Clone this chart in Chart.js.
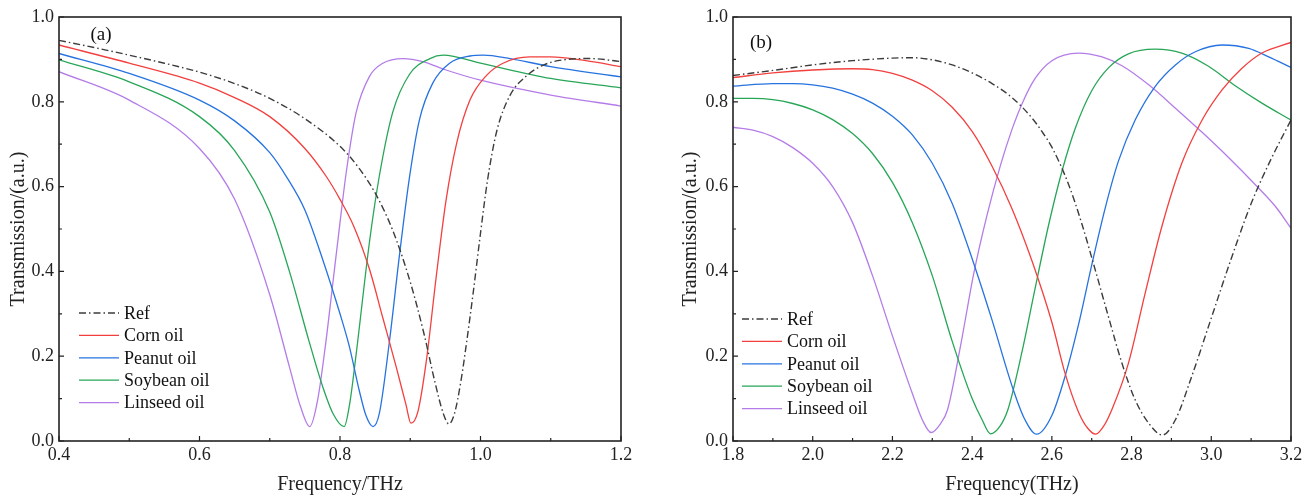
<!DOCTYPE html>
<html>
<head>
<meta charset="utf-8">
<script src="https://cdn.jsdelivr.net/npm/chart.js@4.4.1/dist/chart.umd.min.js"></script>
<style>
  body { margin: 0; background: #fff; }
  canvas { position: absolute; top: 0; }
</style>
</head>
<body>
<canvas id="chartA" width="656" height="500" style="left:0px"></canvas>
<canvas id="chartB" width="657" height="500" style="left:656px"></canvas>
<script>
const seriesNames = ["Ref", "Corn oil", "Peanut oil", "Soybean oil", "Linseed oil"];

// panel (a)
const refAx = [0.40, 0.45, 0.50, 0.55, 0.60, 0.65, 0.70, 0.75, 0.80, 0.825, 0.85, 0.875, 0.90, 0.92, 0.935, 0.947, 0.955, 0.963, 0.972, 0.98, 0.99, 1.0, 1.01, 1.023, 1.042, 1.066, 1.09, 1.118, 1.156, 1.20];
const refAy = [0.945, 0.928, 0.910, 0.891, 0.870, 0.843, 0.808, 0.760, 0.695, 0.648, 0.585, 0.497, 0.375, 0.250, 0.140, 0.065, 0.040, 0.065, 0.140, 0.230, 0.355, 0.490, 0.615, 0.730, 0.815, 0.862, 0.887, 0.899, 0.902, 0.895];
const cornAx = [0.40, 0.50, 0.60, 0.65, 0.70, 0.75, 0.78, 0.80, 0.82, 0.842, 0.861, 0.88, 0.894, 0.901, 0.911, 0.923, 0.937, 0.951, 0.966, 0.985, 1.009, 1.032, 1.07, 1.10, 1.15, 1.20];
const cornAy = [0.934, 0.891, 0.844, 0.810, 0.765, 0.690, 0.625, 0.570, 0.505, 0.405, 0.290, 0.175, 0.085, 0.042, 0.070, 0.190, 0.388, 0.568, 0.702, 0.804, 0.863, 0.891, 0.906, 0.906, 0.897, 0.883];
const peanutAx = [0.40, 0.50, 0.60, 0.65, 0.70, 0.725, 0.75, 0.775, 0.80, 0.813, 0.828, 0.837, 0.847, 0.856, 0.87, 0.885, 0.899, 0.913, 0.932, 0.956, 0.985, 1.004, 1.042, 1.10, 1.20];
const peanutAy = [0.914, 0.867, 0.804, 0.755, 0.680, 0.620, 0.545, 0.430, 0.300, 0.225, 0.115, 0.060, 0.034, 0.065, 0.230, 0.443, 0.623, 0.757, 0.844, 0.891, 0.908, 0.910, 0.902, 0.883, 0.859];
const soyAx = [0.40, 0.50, 0.60, 0.65, 0.70, 0.728, 0.756, 0.775, 0.79, 0.806, 0.814, 0.823, 0.842, 0.856, 0.875, 0.899, 0.928, 0.947, 1.0, 1.1, 1.2];
const soyAy = [0.899, 0.847, 0.765, 0.685, 0.540, 0.400, 0.235, 0.130, 0.065, 0.034, 0.090, 0.205, 0.470, 0.625, 0.775, 0.865, 0.902, 0.910, 0.891, 0.855, 0.833];
const linAx = [0.40, 0.50, 0.60, 0.65, 0.70, 0.728, 0.744, 0.757, 0.768, 0.78, 0.79, 0.80, 0.809, 0.823, 0.842, 0.861, 0.89, 0.918, 0.951, 1.0, 1.1, 1.2];
const linAy = [0.871, 0.804, 0.690, 0.570, 0.345, 0.175, 0.080, 0.034, 0.095, 0.235, 0.375, 0.515, 0.635, 0.775, 0.860, 0.891, 0.902, 0.895, 0.875, 0.851, 0.816, 0.790];

// panel (b)
const refBx = [1.8, 1.9, 2.0, 2.1, 2.2, 2.25, 2.3, 2.35, 2.4, 2.45, 2.5, 2.55, 2.575, 2.6, 2.642, 2.675, 2.709, 2.742, 2.776, 2.809, 2.843, 2.877, 2.91, 2.95, 3.0, 3.05, 3.1, 3.15, 3.2];
const refBy = [0.862, 0.874, 0.887, 0.897, 0.903, 0.904, 0.899, 0.887, 0.868, 0.843, 0.810, 0.762, 0.730, 0.693, 0.605, 0.513, 0.403, 0.293, 0.183, 0.097, 0.042, 0.014, 0.050, 0.150, 0.290, 0.430, 0.560, 0.665, 0.757];
const cornBx = [1.8, 1.9, 2.0, 2.1, 2.15, 2.2, 2.25, 2.3, 2.35, 2.4, 2.45, 2.5, 2.55, 2.6, 2.633, 2.667, 2.69, 2.71, 2.73, 2.751, 2.792, 2.834, 2.876, 2.926, 2.977, 3.027, 3.077, 3.127, 3.2];
const cornBy = [0.857, 0.868, 0.875, 0.878, 0.876, 0.867, 0.851, 0.826, 0.787, 0.730, 0.648, 0.548, 0.425, 0.280, 0.160, 0.068, 0.030, 0.016, 0.035, 0.075, 0.183, 0.348, 0.506, 0.655, 0.757, 0.828, 0.879, 0.915, 0.940];
const peanutBx = [1.8, 1.9, 1.95, 2.0, 2.05, 2.1, 2.15, 2.2, 2.25, 2.3, 2.35, 2.4, 2.45, 2.5, 2.53, 2.562, 2.6, 2.633, 2.667, 2.70, 2.734, 2.767, 2.809, 2.859, 2.91, 2.96, 3.027, 3.094, 3.144, 3.2];
const peanutBy = [0.837, 0.843, 0.843, 0.840, 0.832, 0.818, 0.797, 0.766, 0.722, 0.655, 0.560, 0.430, 0.285, 0.130, 0.055, 0.016, 0.060, 0.152, 0.275, 0.415, 0.550, 0.660, 0.757, 0.836, 0.887, 0.918, 0.934, 0.926, 0.906, 0.881];
const soyBx = [1.8, 1.85, 1.9, 1.95, 2.0, 2.05, 2.1, 2.15, 2.2, 2.25, 2.3, 2.35, 2.4, 2.425, 2.446, 2.47, 2.49, 2.525, 2.558, 2.592, 2.625, 2.659, 2.70, 2.742, 2.792, 2.859, 2.926, 2.993, 3.06, 3.127, 3.2];
const soyBy = [0.808, 0.808, 0.805, 0.796, 0.781, 0.758, 0.725, 0.678, 0.610, 0.515, 0.390, 0.235, 0.100, 0.050, 0.017, 0.035, 0.075, 0.210, 0.360, 0.510, 0.635, 0.738, 0.826, 0.880, 0.913, 0.924, 0.915, 0.884, 0.838, 0.797, 0.757];
const linBx = [1.8, 1.85, 1.9, 1.95, 2.0, 2.05, 2.1, 2.15, 2.2, 2.25, 2.275, 2.297, 2.32, 2.338, 2.371, 2.404, 2.438, 2.471, 2.5, 2.525, 2.558, 2.6, 2.667, 2.726, 2.776, 2.843, 2.91, 2.977, 3.044, 3.11, 3.161, 3.2];
const linBy = [0.740, 0.733, 0.718, 0.692, 0.655, 0.600, 0.515, 0.390, 0.248, 0.112, 0.050, 0.020, 0.040, 0.073, 0.225, 0.395, 0.535, 0.650, 0.735, 0.795, 0.855, 0.897, 0.915, 0.906, 0.885, 0.840, 0.785, 0.728, 0.668, 0.605, 0.553, 0.502];

const colors = ["#3c3c3c", "#f2403f", "#2673e0", "#27a657", "#b47ce8"];
const serif = '"Liberation Serif", "Times New Roman", serif';

const toPoints = (xs, ys) => xs.map((x, i) => ({ x: x, y: ys[i] }));

// frame, inner ticks, legend and panel label
const framePlugin = {
  id: "frame",
  afterDatasetsDraw(chart, args, opts) {
    const { ctx, chartArea: a, scales } = chart;
    ctx.save();
    ctx.strokeStyle = "#222";
    ctx.lineWidth = 1.6;
    ctx.strokeRect(a.left, a.top, a.right - a.left, a.bottom - a.top);

    ctx.lineWidth = 1.2;
    ctx.beginPath();
    const xs = scales.x, ys = scales.y;
    xs.ticks.forEach((t, i) => {
      const px = xs.getPixelForValue(t.value);
      ctx.moveTo(px, a.bottom); ctx.lineTo(px, a.bottom - 5);
      if (i < xs.ticks.length - 1) {
        const m = xs.getPixelForValue((t.value + xs.ticks[i + 1].value) / 2);
        ctx.moveTo(m, a.bottom); ctx.lineTo(m, a.bottom - 3);
      }
    });
    ys.ticks.forEach((t, i) => {
      const py = ys.getPixelForValue(t.value);
      ctx.moveTo(a.left, py); ctx.lineTo(a.left + 5, py);
      if (i < ys.ticks.length - 1) {
        const m = ys.getPixelForValue((t.value + ys.ticks[i + 1].value) / 2);
        ctx.moveTo(a.left, m); ctx.lineTo(a.left + 3, m);
      }
    });
    ctx.stroke();

    // legend
    ctx.font = "18px " + serif;
    ctx.textBaseline = "middle";
    ctx.textAlign = "left";
    chart.data.datasets.forEach((ds, i) => {
      const y = opts.legY + i * opts.legRow;
      ctx.strokeStyle = ds.borderColor;
      ctx.lineWidth = ds.borderWidth;
      ctx.setLineDash(ds.borderDash || []);
      ctx.beginPath();
      ctx.moveTo(opts.legX, y);
      ctx.lineTo(opts.legX + 40, y);
      ctx.stroke();
      ctx.setLineDash([]);
      ctx.fillStyle = "#111";
      ctx.fillText(ds.label, opts.legX + 45, y + 1);
    });

    ctx.font = "19px " + serif;
    ctx.textAlign = "center";
    ctx.fillText(opts.label, opts.labelX, opts.labelY);
    ctx.restore();
  }
};

function makeChart(id, xsList, ysList, xMin, xMax, xTitle, axisW, padRight, titlePad, frameOpts) {
  const datasets = xsList.map((xs, i) => ({
    label: seriesNames[i],
    data: toPoints(xs, ysList[i]),
    borderColor: colors[i],
    borderWidth: i === 0 ? 1.4 : 1.3,
    borderDash: i === 0 ? [7, 3, 1.5, 3] : [],
    pointRadius: 0,
    cubicInterpolationMode: "monotone",
    fill: false
  }));

  return new Chart(document.getElementById(id), {
    type: "line",
    data: { datasets: datasets },
    plugins: [framePlugin],
    options: {
      responsive: false,
      devicePixelRatio: 1,
      animation: false,
      layout: { padding: { left: 0, top: 17, right: padRight, bottom: 0 } },
      plugins: {
        legend: { display: false },
        tooltip: { enabled: false },
        frame: frameOpts
      },
      scales: {
        x: {
          type: "linear",
          min: xMin,
          max: xMax,
          afterFit: (s) => { s.height = 59; },
          grid: { display: false, drawTicks: false },
          border: { display: false },
          ticks: {
            stepSize: 0.2,
            maxRotation: 0,
            padding: 3,
            color: "#222",
            font: { family: serif, size: 18 },
            callback: (v) => Number(v).toFixed(1)
          },
          title: {
            display: true,
            text: xTitle,
            color: "#222",
            font: { family: serif, size: 20 },
            padding: { top: 0, bottom: 3 }
          }
        },
        y: {
          min: 0,
          max: 1,
          afterFit: (s) => { s.width = axisW; },
          grid: { display: false, drawTicks: false },
          border: { display: false },
          ticks: {
            stepSize: 0.2,
            padding: 5,
            color: "#222",
            font: { family: serif, size: 18 },
            callback: (v) => Number(v).toFixed(1)
          },
          title: {
            display: true,
            text: "Transmission/(a.u.)",
            color: "#222",
            font: { family: serif, size: 20 },
            padding: { top: titlePad, bottom: 0 }
          }
        }
      }
    }
  });
}

makeChart("chartA",
  [refAx, cornAx, peanutAx, soyAx, linAx],
  [refAy, cornAy, peanutAy, soyAy, linAy],
  0.4, 1.2, "Frequency/THz", 59, 35, 7,
  { legX: 79, legY: 313, legRow: 22.4, label: "(a)", labelX: 101, labelY: 35 });

makeChart("chartB",
  [refBx, cornBx, peanutBx, soyBx, linBx],
  [refBy, cornBy, peanutBy, soyBy, linBy],
  1.8, 3.2, "Frequency(THz)", 77, 22, 23,
  { legX: 86, legY: 319, legRow: 22.4, label: "(b)", labelX: 105, labelY: 43 });
</script>
</body>
</html>
